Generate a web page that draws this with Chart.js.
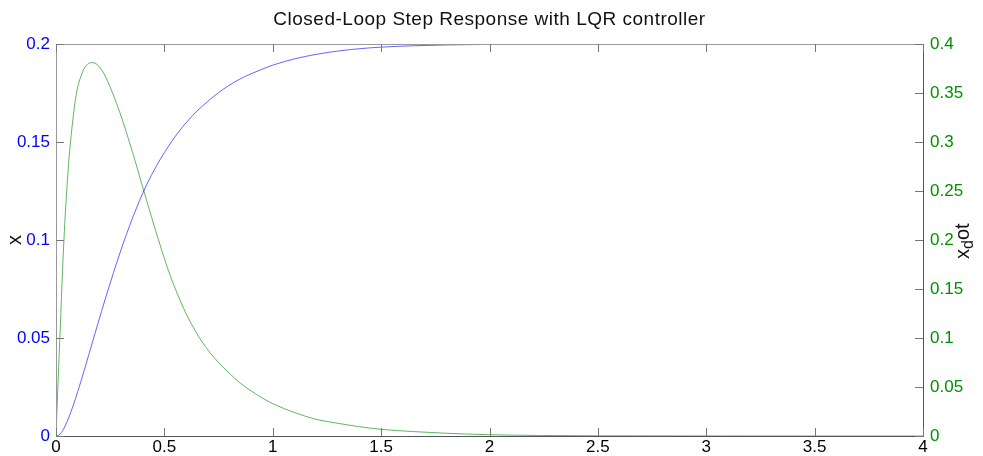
<!DOCTYPE html>
<html>
<head>
<meta charset="utf-8">
<script src="https://cdn.jsdelivr.net/npm/chart.js@4.4.1/dist/chart.umd.min.js"></script>
<style>
html,body{margin:0;padding:0;background:#fff;}
#c{display:block;}
</style>
</head>
<body>
<canvas id="c" width="983" height="456"></canvas>
<script>
// ---- data ----
const titleText = 'Closed-Loop Step Response with LQR controller';
const time = [0, 0.01, 0.02, 0.03, 0.04, 0.05, 0.06, 0.07, 0.08, 0.09, 0.10, 0.115, 0.13, 0.15, 0.17, 0.19, 0.21, 0.23, 0.25, 0.28, 0.31, 0.34, 0.37, 0.40, 0.44, 0.48, 0.52, 0.56, 0.60, 0.65, 0.70, 0.75, 0.80, 0.85, 0.90, 0.95, 1.0, 1.1, 1.2, 1.3, 1.4, 1.5, 1.65, 1.8, 2.0, 2.25, 2.5, 3.0, 3.5, 4.0];
const position = [0, 0.0003, 0.0012, 0.0026, 0.0046, 0.0070, 0.0097, 0.0127, 0.0158, 0.0191, 0.0226, 0.0279, 0.0334, 0.0410, 0.0486, 0.0561, 0.0636, 0.0709, 0.0780, 0.0884, 0.0982, 0.1074, 0.1159, 0.1238, 0.1330, 0.1410, 0.1480, 0.1543, 0.1598, 0.1657, 0.1707, 0.1752, 0.1790, 0.1822, 0.1848, 0.1871, 0.1892, 0.1924, 0.1947, 0.1964, 0.1976, 0.1984, 0.1991, 0.1995, 0.1998, 0.1999, 0.2, 0.2, 0.2, 0.2];
const velocity = [0, 0.058, 0.112, 0.168, 0.215, 0.252, 0.283, 0.307, 0.327, 0.344, 0.356, 0.367, 0.375, 0.380, 0.381, 0.379, 0.374, 0.366, 0.356, 0.339, 0.320, 0.299, 0.277, 0.254, 0.224, 0.195, 0.168, 0.145, 0.125, 0.1045, 0.088, 0.075, 0.064, 0.054, 0.046, 0.039, 0.033, 0.024, 0.017, 0.013, 0.0095, 0.0068, 0.0045, 0.0028, 0.0013, 0.0005, 0.0002, 0.00005, 0, 0];
const xTicks = [0, 0.5, 1, 1.5, 2, 2.5, 3, 3.5, 4];
const leftTicks = [0, 0.05, 0.1, 0.15, 0.2];
const rightTicks = [0, 0.05, 0.1, 0.15, 0.2, 0.25, 0.3, 0.35, 0.4];

const FONT = '"Liberation Sans", Arial, Helvetica, sans-serif';
const fmt = v => String(Number(v.toFixed(4)));

const decor = {
  id: 'decor',
  afterDraw(chart) {
    const ctx = chart.ctx, a = chart.chartArea;
    const sx = chart.scales.x, sl = chart.scales.y, sr = chart.scales.y1;
    ctx.save();
    ctx.lineWidth = 1;
    // box
    ctx.strokeStyle = '#999';
    ctx.beginPath();
    ctx.moveTo(a.left + 0.5, a.bottom + 0.5); ctx.lineTo(a.left + 0.5, a.top + 0.5);
    ctx.lineTo(a.right + 0.5, a.top + 0.5);
    ctx.stroke();
    ctx.strokeStyle = '#555';
    ctx.beginPath();
    ctx.moveTo(a.left + 0.5, a.bottom + 0.5); ctx.lineTo(a.right + 0.5, a.bottom + 0.5);
    ctx.lineTo(a.right + 0.5, a.top + 0.5);
    ctx.stroke();
    // inward ticks
    const L = 8;
    ctx.strokeStyle = '#777';
    ctx.beginPath();
    xTicks.forEach(v => {
      const px = Math.round(sx.getPixelForValue(v)) + 0.5;
      ctx.moveTo(px, a.bottom); ctx.lineTo(px, a.bottom - L);
      ctx.moveTo(px, a.top); ctx.lineTo(px, a.top + L);
    });
    leftTicks.forEach(v => {
      const py = Math.round(sl.getPixelForValue(v)) + 0.5;
      ctx.moveTo(a.left, py); ctx.lineTo(a.left + L, py);
    });
    rightTicks.forEach(v => {
      const py = Math.round(sr.getPixelForValue(v)) + 0.5;
      ctx.moveTo(a.right, py); ctx.lineTo(a.right - L, py);
    });
    ctx.stroke();
    // title
    ctx.fillStyle = '#111';
    ctx.font = '19px ' + FONT;
    ctx.textAlign = 'center';
    ctx.textBaseline = 'alphabetic';
    try { ctx.letterSpacing = '0.5px'; } catch (e) {}
    ctx.fillText(titleText, (a.left + a.right) / 2, 25);
    try { ctx.letterSpacing = '0px'; } catch (e) {}
    // left axis label
    ctx.save();
    ctx.translate(21, (a.top + a.bottom) / 2);
    ctx.rotate(-Math.PI / 2);
    ctx.font = '20px ' + FONT;
    ctx.fillText('x', 0, 0);
    ctx.restore();
    // right axis label x_dot (rotated CCW, reading bottom to top)
    ctx.save();
    ctx.translate(969, 259);
    ctx.rotate(-Math.PI / 2);
    ctx.textAlign = 'left';
    ctx.font = '20px ' + FONT;
    ctx.fillText('x', 0, 0);
    let w = ctx.measureText('x').width;
    ctx.font = '16px ' + FONT;
    ctx.fillText('d', w, 4);
    w += ctx.measureText('d').width;
    ctx.font = '20px ' + FONT;
    ctx.fillText('ot', w, 0);
    ctx.restore();
    ctx.restore();
  }
};

new Chart(document.getElementById('c'), {
  type: 'line',
  data: {
    datasets: [
      {
        label: 'x',
        data: time.map((t, i) => ({ x: t, y: position[i] })),
        yAxisID: 'y',
        borderColor: 'rgba(50,50,255,0.75)',
        borderWidth: 1,
        pointRadius: 0,
        fill: false,
        cubicInterpolationMode: 'monotone'
      },
      {
        label: 'x_dot',
        data: time.map((t, i) => ({ x: t, y: velocity[i] })),
        yAxisID: 'y1',
        borderColor: 'rgba(40,160,40,0.75)',
        borderWidth: 1,
        pointRadius: 0,
        fill: false,
        cubicInterpolationMode: 'monotone'
      }
    ]
  },
  options: {
    responsive: false,
    animation: false,
    events: [],
    layout: { padding: { top: 44, left: 0, right: 0, bottom: 0 } },
    plugins: { legend: { display: false }, title: { display: false }, tooltip: { enabled: false } },
    scales: {
      x: {
        type: 'linear', min: 0, max: 4,
        grid: { display: false, drawTicks: false },
        border: { display: false },
        ticks: { color: '#000', font: { size: 17, family: FONT }, padding: 1, maxRotation: 0, callback: v => fmt(v) },
        afterBuildTicks: s => { s.ticks = xTicks.map(v => ({ value: v })); },
        afterFit: s => { s.height = 20; }
      },
      y: {
        type: 'linear', position: 'left', min: 0, max: 0.2,
        grid: { display: false, drawTicks: false },
        border: { display: false },
        ticks: { color: '#0000ff', font: { size: 17, family: FONT }, padding: 6, callback: v => fmt(v) },
        afterBuildTicks: s => { s.ticks = leftTicks.map(v => ({ value: v })); },
        afterFit: s => { s.width = 56; }
      },
      y1: {
        type: 'linear', position: 'right', min: 0, max: 0.4,
        grid: { display: false, drawTicks: false },
        border: { display: false },
        ticks: { color: '#009000', font: { size: 17, family: FONT }, padding: 7, callback: v => fmt(v) },
        afterBuildTicks: s => { s.ticks = rightTicks.map(v => ({ value: v })); },
        afterFit: s => { s.width = 60; }
      }
    }
  },
  plugins: [decor]
});
</script>
</body>
</html>
